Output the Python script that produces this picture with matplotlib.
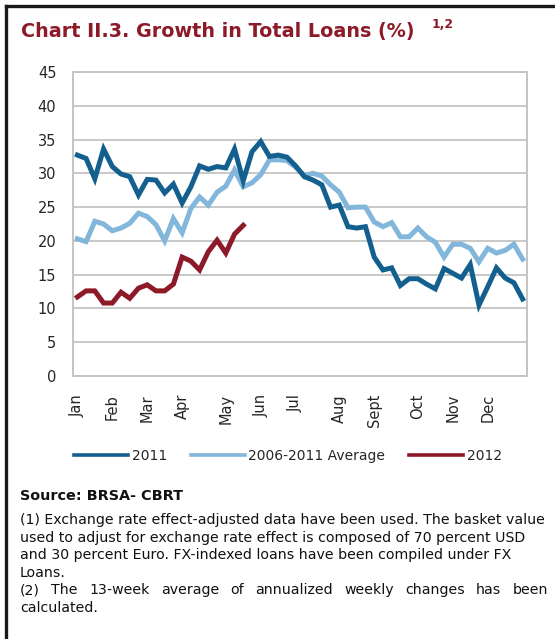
import matplotlib
matplotlib.use("Agg")
import matplotlib.pyplot as plt
from matplotlib.lines import Line2D

# Weekly growth rates (%), 13-week average of annualized weekly changes
loans_2011 = [32.7, 32.2, 29.2, 33.6, 31.0, 29.9, 29.5, 26.8, 29.1, 29.0, 27.1, 28.4, 25.6,
              28.0, 31.1, 30.6, 31.0, 30.8, 33.6, 28.9, 33.2, 34.7, 32.5, 32.7, 32.4, 31.1,
              29.5, 29.0, 28.3, 25.0, 25.3, 22.1, 21.9, 22.1, 17.6, 15.7, 16.0, 13.4, 14.4,
              14.4, 13.6, 12.9, 15.9, 15.2, 14.5, 16.5, 10.5, 13.2, 16.0, 14.5, 13.8, 11.4]
loans_avg = [20.3, 19.9, 22.9, 22.5, 21.5, 21.9, 22.6, 24.1, 23.6, 22.4, 20.0, 23.3, 21.2,
             24.8, 26.5, 25.3, 27.2, 28.1, 30.5, 28.0, 28.6, 29.8, 32.0, 32.0, 31.9, 30.9,
             29.7, 30.0, 29.6, 28.3, 27.2, 24.9, 25.0, 25.0, 22.8, 22.1, 22.7, 20.6, 20.6,
             21.9, 20.6, 19.8, 17.6, 19.5, 19.5, 18.9, 16.9, 18.9, 18.2, 18.6, 19.5, 17.3]
loans_2012 = [11.7, 12.6, 12.6, 10.8, 10.8, 12.4, 11.5, 13.0, 13.5, 12.6, 12.6, 13.6, 17.6,
              17.0, 15.7, 18.4, 20.1, 18.2, 21.0, 22.3]

series_names = ["2011", "2006-2011 Average", "2012"]
month_labels = ["Jan", "Feb", "Mar", "Apr", "May", "Jun", "Jul", "Aug", "Sept", "Oct", "Nov", "Dec"]
month_weeks = [0, 4, 8, 12, 17, 21, 25, 30, 34, 39, 43, 47]
y_ticks = [0, 5, 10, 15, 20, 25, 30, 35, 40, 45]

C_2011 = "#13608f"
C_AVG = "#82b6da"
C_2012 = "#8c1a28"
TITLE_RED = "#8c1a28"
GRID = "#c4c4c4"
TXT = "#262626"
NOTE = "#111111"
NOTE_FS = 10.2

W, H = 555, 639
fig = plt.figure(figsize=(W / 100, H / 100), dpi=100)


def fx(x):
    return x / W


def fy(y):
    return 1 - y / H


# outer box edges
fig.add_artist(Line2D([fx(6), fx(6)], [fy(6), fy(H + 5)], color="#1a1a1a", lw=2.4))
fig.add_artist(Line2D([fx(6), fx(W + 5)], [fy(6), fy(6)], color="#1a1a1a", lw=2.4))

fig.text(fx(21), fy(31), "Chart II.3. Growth in Total Loans (%)", color=TITLE_RED,
         fontsize=13.8, fontweight="bold", ha="left", va="center")
fig.text(fx(432), fy(25), "1,2", color=TITLE_RED, fontsize=8.8, fontweight="bold",
         ha="left", va="center")

ax = fig.add_axes([fx(73), fy(376), fx(527) - fx(73), fy(72) - fy(376)])
weeks = list(range(len(loans_2011)))
ax.plot(weeks, loans_avg, color=C_AVG, lw=3.6, solid_joinstyle="miter", zorder=3)
ax.plot(weeks, loans_2011, color=C_2011, lw=3.6, solid_joinstyle="miter", zorder=4)
ax.plot(list(range(len(loans_2012))), loans_2012, color=C_2012, lw=3.6,
        solid_joinstyle="miter", zorder=5)

ax.set_xlim(-0.5, len(loans_2011) - 0.5)
ax.set_ylim(0, 45)
ax.set_yticks(y_ticks)
ax.set_yticklabels([str(v) for v in y_ticks])
ax.set_xticks(month_weeks)
ax.set_xticklabels(month_labels, rotation=90, va="top", ha="center")
ax.tick_params(axis="y", length=0, pad=12, labelsize=10.5, labelcolor=TXT)
ax.tick_params(axis="x", length=0, pad=13, labelsize=10.5, labelcolor=TXT)
ax.grid(axis="y", color=GRID, lw=1.3)
ax.set_axisbelow(True)
for s in ax.spines.values():
    s.set_color(GRID)
    s.set_linewidth(1.4)

handles = [Line2D([], [], color=c, lw=2.6) for c in (C_2011, C_AVG, C_2012)]
fig.legend(handles, series_names, loc="center", bbox_to_anchor=(fx(288), fy(456)),
           ncol=3, frameon=False, fontsize=10, handlelength=3.9, handletextpad=0.25,
           columnspacing=1.7, labelcolor=TXT)

fig.text(fx(20), fy(500), "Source: BRSA- CBRT", fontsize=10.4, fontweight="bold",
         color=NOTE, ha="left", va="baseline")
notes = [
    "(1) Exchange rate effect-adjusted data have been used. The basket value",
    "used to adjust for exchange rate effect is composed of 70 percent USD",
    "and 30 percent Euro. FX-indexed loans have been compiled under FX",
    "Loans.",
]
line_y = [524, 542, 559, 577]
for t, yy in zip(notes, line_y):
    fig.text(fx(20), fy(yy), t, fontsize=NOTE_FS, color=NOTE, ha="left", va="baseline")

# justified line of note (2)
words = "(2) The 13-week average of annualized weekly changes has been".split()
fig.canvas.draw()
renderer = fig.canvas.get_renderer()
arts = [fig.text(0, fy(594), w, fontsize=NOTE_FS, color=NOTE, ha="left", va="baseline")
        for w in words]
widths = [a.get_window_extent(renderer).width for a in arts]
left, right = 20, 548
gap = (right - left - sum(widths)) / (len(words) - 1)
xpos = left
for a, w in zip(arts, widths):
    a.set_x(fx(xpos))
    xpos += w + gap
fig.text(fx(20), fy(612), "calculated.", fontsize=NOTE_FS, color=NOTE, ha="left",
         va="baseline")

fig.savefig("out.png", dpi=100)
